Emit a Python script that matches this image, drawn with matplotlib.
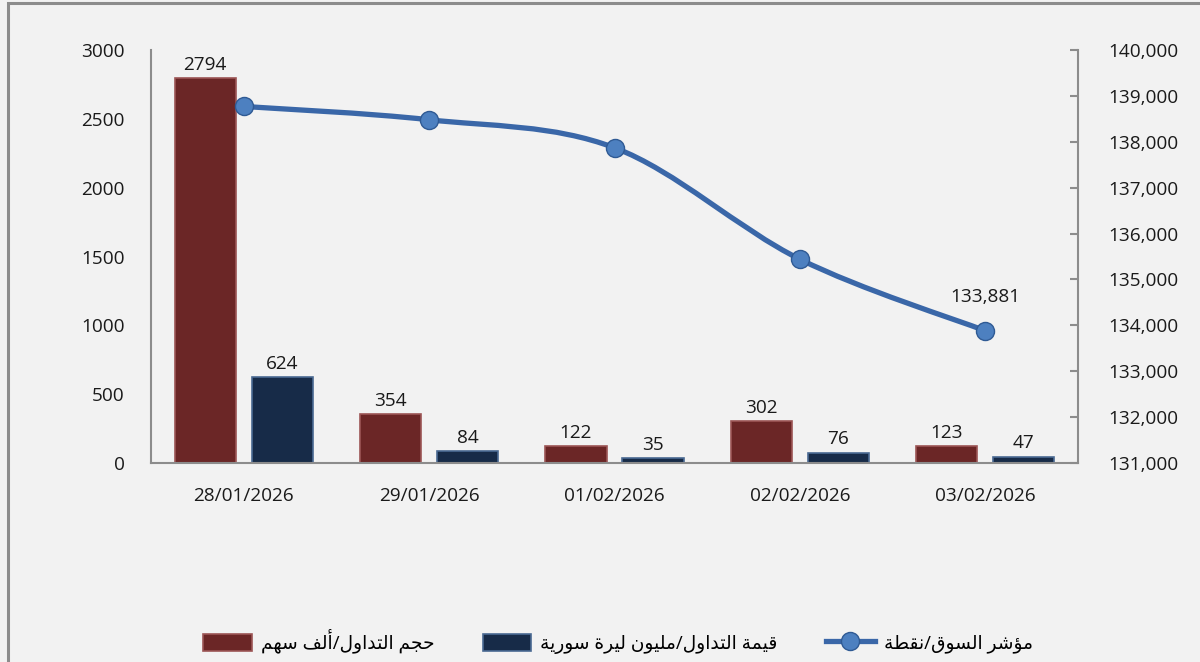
import matplotlib.pyplot as plt
import numpy as np
from matplotlib.lines import Line2D
from matplotlib.patches import PathPatch, Rectangle
from matplotlib.path import Path
from matplotlib.ticker import FuncFormatter

plt.rcParams['font.family'] = ['Open Sans', 'DejaVu Sans']

dates = ['28/01/2026', '29/01/2026', '01/02/2026', '02/02/2026', '03/02/2026']
volume = [2794, 354, 122, 302, 123]          # حجم التداول/ألف سهم
value = [624, 84, 35, 76, 47]                # قيمة التداول/مليون ليرة سورية
index_pts = [138770, 138480, 137870, 135440, 133881]  # مؤشر السوق/نقطة

label_volume = 'حجم التداول/ألف سهم'
label_value = 'قيمة التداول/مليون ليرة سورية'
label_index = 'مؤشر السوق/نقطة'

left_ticks = [0, 500, 1000, 1500, 2000, 2500, 3000]
right_ticks = list(range(131000, 140001, 1000))

# arabic presentation forms: (isolated, final, initial, medial)
FORMS = {
    'ا': (0xFE8D, 0xFE8E), 'أ': (0xFE83, 0xFE84), 'ؤ': (0xFE85, 0xFE86),
    'ة': (0xFE93, 0xFE94), 'د': (0xFEA9, 0xFEAA), 'ر': (0xFEAD, 0xFEAE),
    'و': (0xFEED, 0xFEEE),
    'ت': (0xFE95, 0xFE96, 0xFE97, 0xFE98), 'ج': (0xFE9D, 0xFE9E, 0xFE9F, 0xFEA0),
    'ح': (0xFEA1, 0xFEA2, 0xFEA3, 0xFEA4), 'س': (0xFEB1, 0xFEB2, 0xFEB3, 0xFEB4),
    'ش': (0xFEB5, 0xFEB6, 0xFEB7, 0xFEB8), 'ط': (0xFEC1, 0xFEC2, 0xFEC3, 0xFEC4),
    'ف': (0xFED1, 0xFED2, 0xFED3, 0xFED4), 'ق': (0xFED5, 0xFED6, 0xFED7, 0xFED8),
    'ل': (0xFEDD, 0xFEDE, 0xFEDF, 0xFEE0), 'م': (0xFEE1, 0xFEE2, 0xFEE3, 0xFEE4),
    'ن': (0xFEE5, 0xFEE6, 0xFEE7, 0xFEE8), 'ه': (0xFEE9, 0xFEEA, 0xFEEB, 0xFEEC),
    'ي': (0xFEF1, 0xFEF2, 0xFEF3, 0xFEF4),
}


def shape_ar(s):
    out = []
    for i, ch in enumerate(s):
        if ch not in FORMS:
            out.append(ch)
            continue
        forms = FORMS[ch]
        prev = s[i - 1] if i > 0 else ''
        nxt = s[i + 1] if i + 1 < len(s) else ''
        j_prev = prev in FORMS and len(FORMS[prev]) == 4
        j_next = len(forms) == 4 and nxt in FORMS
        if j_prev and j_next:
            f = forms[3]
        elif j_prev:
            f = forms[1]
        elif j_next:
            f = forms[2]
        else:
            f = forms[0]
        out.append(chr(f))
    return ''.join(reversed(out))


def smooth_path(xs, ys):
    # bezier segments through the points, excel style smoothing
    pts = np.column_stack([xs, ys]).astype(float)
    n = len(pts)
    verts = [pts[0]]
    codes = [Path.MOVETO]
    for i in range(n - 1):
        p0 = pts[i - 1] if i > 0 else pts[i]
        p3 = pts[i + 2] if i + 2 < n else pts[i + 1]
        c1 = pts[i] + (pts[i + 1] - p0) / 6
        c2 = pts[i + 1] - (p3 - pts[i]) / 6
        verts += [c1, c2, pts[i + 1]]
        codes += [Path.CURVE4] * 3
    return Path(verts, codes)


bg = '#f2f2f2'
spine_c = '#8c8c8c'
red, red_edge = '#6b2626', '#9c5555'
navy, navy_edge = '#172b48', '#4a6a93'
line_c = '#3a67a8'
txt_c = '#1a1a1a'
fs = 13.7

fig = plt.figure(figsize=(12, 6.62), dpi=100, facecolor=bg)
fig.patches.append(Rectangle((8 / 1200, -0.1), 1.2, 1.1 - 3 / 662, transform=fig.transFigure,
                             facecolor='none', edgecolor=spine_c, linewidth=2.2))

ax = fig.add_axes([151 / 1200, 199 / 662, 927 / 1200, 413 / 662])
ax.set_facecolor('none')
x = np.arange(len(dates))
w = 0.33
off = 0.208
b1 = ax.bar(x - off, volume, w, color=red, edgecolor=red_edge, linewidth=1.2, zorder=2)
b2 = ax.bar(x + off, value, w, color=navy, edgecolor=navy_edge, linewidth=1.2, zorder=2)
for rects, vals in ((b1, volume), (b2, value)):
    for r, v in zip(rects, vals):
        ax.annotate(str(v), (r.get_x() + r.get_width() / 2, v), xytext=(0, 3),
                    textcoords='offset points', ha='center', va='bottom', fontsize=fs, color=txt_c)

ax.set_xlim(-0.5, len(dates) - 0.5)
ax.set_ylim(0, 3000)
ax.set_yticks(left_ticks)
ax.set_xticks(x)
ax.set_xticklabels(dates)
ax.tick_params(axis='y', length=0, pad=19, labelsize=fs, labelcolor=txt_c)
ax.tick_params(axis='x', length=0, pad=17, labelsize=fs, labelcolor=txt_c)
for s in ('top', 'right'):
    ax.spines[s].set_visible(False)
for s in ('left', 'bottom'):
    ax.spines[s].set_color(spine_c)
    ax.spines[s].set_linewidth(1.5)

ax2 = ax.twinx()
ax2.set_ylim(131000, 140000)
ax2.set_yticks(right_ticks)
ax2.yaxis.set_major_formatter(FuncFormatter(lambda v, p: f'{int(v):,}'))
ax2.tick_params(axis='y', direction='in', length=6, width=1.5, color=spine_c, pad=22,
                labelsize=fs, labelcolor=txt_c)
for s in ('top', 'left', 'bottom'):
    ax2.spines[s].set_visible(False)
ax2.spines['right'].set_color(spine_c)
ax2.spines['right'].set_linewidth(1.5)

ax2.add_patch(PathPatch(smooth_path(x, index_pts), facecolor='none', edgecolor=line_c,
                        linewidth=3.8, capstyle='round', zorder=3))
ax2.plot(x, index_pts, linestyle='none', marker='o', markersize=13, markerfacecolor='#4d80c0',
         markeredgecolor='#2f5a94', markeredgewidth=1.0, zorder=4)
ax2.annotate(f'{index_pts[-1]:,}', (x[-1], index_pts[-1]), xytext=(0, 18),
             textcoords='offset points', ha='center', va='bottom', fontsize=fs, color=txt_c)

h_line = Line2D([], [], color=line_c, linewidth=3.8, marker='o', markersize=13,
                markerfacecolor='#4d80c0', markeredgecolor='#2f5a94')
fig.legend([b1, b2, h_line], [shape_ar(label_volume), shape_ar(label_value), shape_ar(label_index)],
           loc='center', bbox_to_anchor=(0.515, 21 / 662), ncol=3, frameon=False, fontsize=13.4,
           handlelength=2.6, handleheight=1.05, handletextpad=0.5, columnspacing=2.6)

fig.savefig('out.png', dpi=100, facecolor=bg)
